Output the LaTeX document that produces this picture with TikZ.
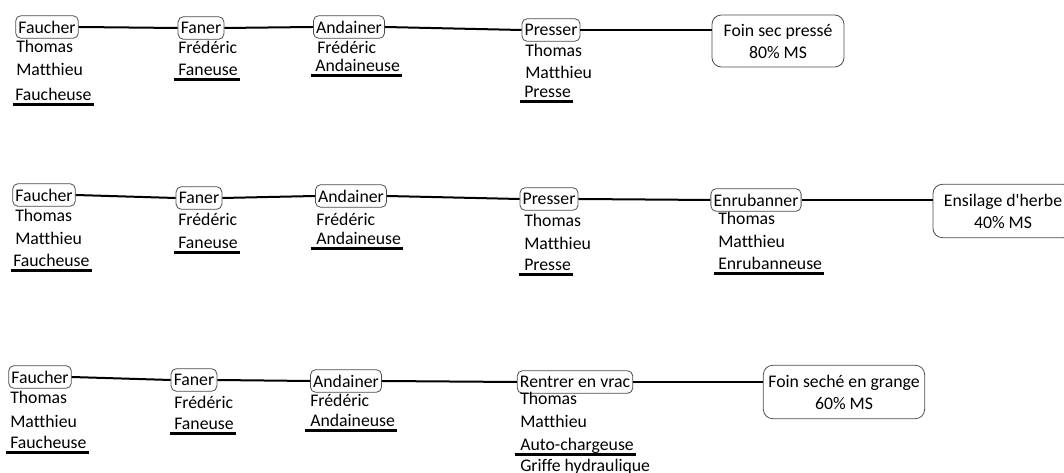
\documentclass[tikz,border=0pt]{standalone}
\usepackage{fontspec}
\setmainfont{Carlito}[Ligatures=NoCommon]
\usetikzlibrary{calc}
\tikzset{
  box/.style={draw=black!70, line width=0.6pt, rounded corners=4pt, inner xsep=2pt, inner ysep=1pt, minimum height=17pt, font=\fontsize{13.3}{15}\selectfont},
  res/.style={box, rounded corners=7pt, align=center, font=\fontsize{13.3}{16.5}\selectfont},
  lab/.style={anchor=west, inner sep=0pt, text height=9.5pt, text depth=3pt, font=\fontsize{13.3}{15}\selectfont},
  link/.style={draw=black, line width=1.5pt},
  uline/.style={draw=black, line width=1.8pt},
}

\begin{document}
\begin{tikzpicture}[x=0.75pt, y=-0.75pt]
  \useasboundingbox (0,0) rectangle (1064,473);

  % foin sec presse
  \node[box] (fa1) at (47,27) {Faucher};
  \node[box] (fn1) at (201,28) {Faner};
  \node[box] (an1) at (349,27) {Andainer};
  \node[box] (pr1) at (551,30) {Presser};
  \node[res, minimum width=99pt, minimum height=39pt] (fs1) at (778,41) {Foin sec pressé\\80\% MS};
  \draw[link] (fa1.east) -- (fn1.west);
  \draw[link] (fn1.east) -- (an1.west);
  \draw[link] (an1.east) -- (pr1.west);
  \draw[link] (pr1.east) -- (pr1.east -| fs1.west);
  \node[lab] (fa1p) at (16,48) {Thomas};
  \node[lab] (fa1q) at (16,71) {Matthieu};
  \node[lab] (fa1m) at (15,96) {Faucheuse};
  \node[lab] (fn1p) at (178,49) {Frédéric};
  \node[lab] (fn1m) at (178,71) {Faneuse};
  \node[lab] (an1p) at (317,49) {Frédéric};
  \node[lab] (an1m) at (315,67) {Andaineuse};
  \node[lab] (pr1p) at (525,52) {Thomas};
  \node[lab] (pr1q) at (525,74) {Matthieu};
  \node[lab] (pr1m) at (524,93) {Presse};
  \draw[uline] ([xshift=-1.5pt]fa1m.south west) -- ([xshift=1.5pt]fa1m.south east);
  \draw[uline] ([xshift=-3pt]fn1m.south west) -- ([xshift=1.5pt]fn1m.south east);
  \draw[uline] ([xshift=-3pt]an1m.south west) -- ([xshift=1.5pt]an1m.south east);
  \draw[uline] ([xshift=-3pt]pr1m.south west) -- ([xshift=1.5pt]pr1m.south east);

  % ensilage d'herbe
  \node[box] (fa2) at (44,195) {Faucher};
  \node[box] (fn2) at (199,198) {Faner};
  \node[box] (an2) at (351,196) {Andainer};
  \node[box] (pr2) at (549,199) {Presser};
  \node[box] (en2) at (756,200) {Enrubanner};
  \node[res, minimum width=105pt, minimum height=40pt] (fs2) at (1003,211) {Ensilage d\textquotesingle herbe\\40\% MS};
  \draw[link] (fa2.east) -- (fn2.west);
  \draw[link] (fn2.east) -- (an2.west);
  \draw[link] (an2.east) -- (pr2.west);
  \draw[link] (pr2.east) -- (en2.west);
  \draw[link] (en2.east) -- (en2.east -| fs2.west);
  \node[lab] (fa2p) at (15,217) {Thomas};
  \node[lab] (fa2q) at (15,240) {Matthieu};
  \node[lab] (fa2m) at (13,262) {Faucheuse};
  \node[lab] (fn2p) at (178,221) {Frédéric};
  \node[lab] (fn2m) at (178,244) {Faneuse};
  \node[lab] (an2p) at (316,221) {Frédéric};
  \node[lab] (an2m) at (316,240) {Andaineuse};
  \node[lab] (pr2p) at (524,222) {Thomas};
  \node[lab] (pr2q) at (524,245) {Matthieu};
  \node[lab] (pr2m) at (524,266) {Presse};
  \node[lab] (en2p) at (718,220) {Thomas};
  \node[lab] (en2q) at (718,243) {Matthieu};
  \node[lab] (en2m) at (718,265) {Enrubanneuse};
  \draw[uline] ([xshift=-1.5pt]fa2m.south west) -- ([xshift=1.5pt]fa2m.south east);
  \draw[uline] ([xshift=-3pt]fn2m.south west) -- ([xshift=1.5pt]fn2m.south east);
  \draw[uline] ([xshift=-4pt]an2m.south west) -- ([xshift=1.5pt]an2m.south east);
  \draw[uline] ([xshift=-4pt]pr2m.south west) -- ([xshift=1.5pt]pr2m.south east);
  \draw[uline] ([xshift=-3pt]en2m.south west) -- ([xshift=1.5pt]en2m.south east);

  % foin seche en grange
  \node[box] (fa3) at (40,377) {Faucher};
  \node[box] (fn3) at (194,380) {Faner};
  \node[box] (an3) at (346,381) {Andainer};
  \node[box] (rv3) at (575,382) {Rentrer en vrac};
  \node[res, minimum width=121pt, minimum height=40pt] (fs3) at (844,392) {Foin seché en grange\\60\% MS};
  \draw[link] (fa3.east) -- (fn3.west);
  \draw[link] (fn3.east) -- (an3.west);
  \draw[link] (an3.east) -- (rv3.west);
  \draw[link] (rv3.east) -- (rv3.east -| fs3.west);
  \node[lab] (fa3p) at (10,399) {Thomas};
  \node[lab] (fa3q) at (10,423) {Matthieu};
  \node[lab] (fa3m) at (10,444) {Faucheuse};
  \node[lab] (fn3p) at (174,404) {Frédéric};
  \node[lab] (fn3m) at (174,425) {Faneuse};
  \node[lab] (an3p) at (310,402) {Frédéric};
  \node[lab] (an3m) at (310,422) {Andaineuse};
  \node[lab] (rv3p) at (520,400) {Thomas};
  \node[lab] (rv3q) at (520,423) {Matthieu};
  \node[lab] (rv3m) at (520,446) {Auto-chargeuse};
  \node[lab] (rv3n) at (520,467) {Griffe hydraulique};
  \draw[uline] ([xshift=-3pt]fa3m.south west) -- ([xshift=1.5pt]fa3m.south east);
  \draw[uline] ([xshift=-3pt]fn3m.south west) -- ([xshift=1.5pt]fn3m.south east);
  \draw[uline] ([xshift=-4pt]an3m.south west) -- ([xshift=1.5pt]an3m.south east);
  \draw[uline] ([xshift=-4pt]rv3m.south west) -- ([xshift=1.5pt]rv3m.south east);
\end{tikzpicture}
\end{document}
